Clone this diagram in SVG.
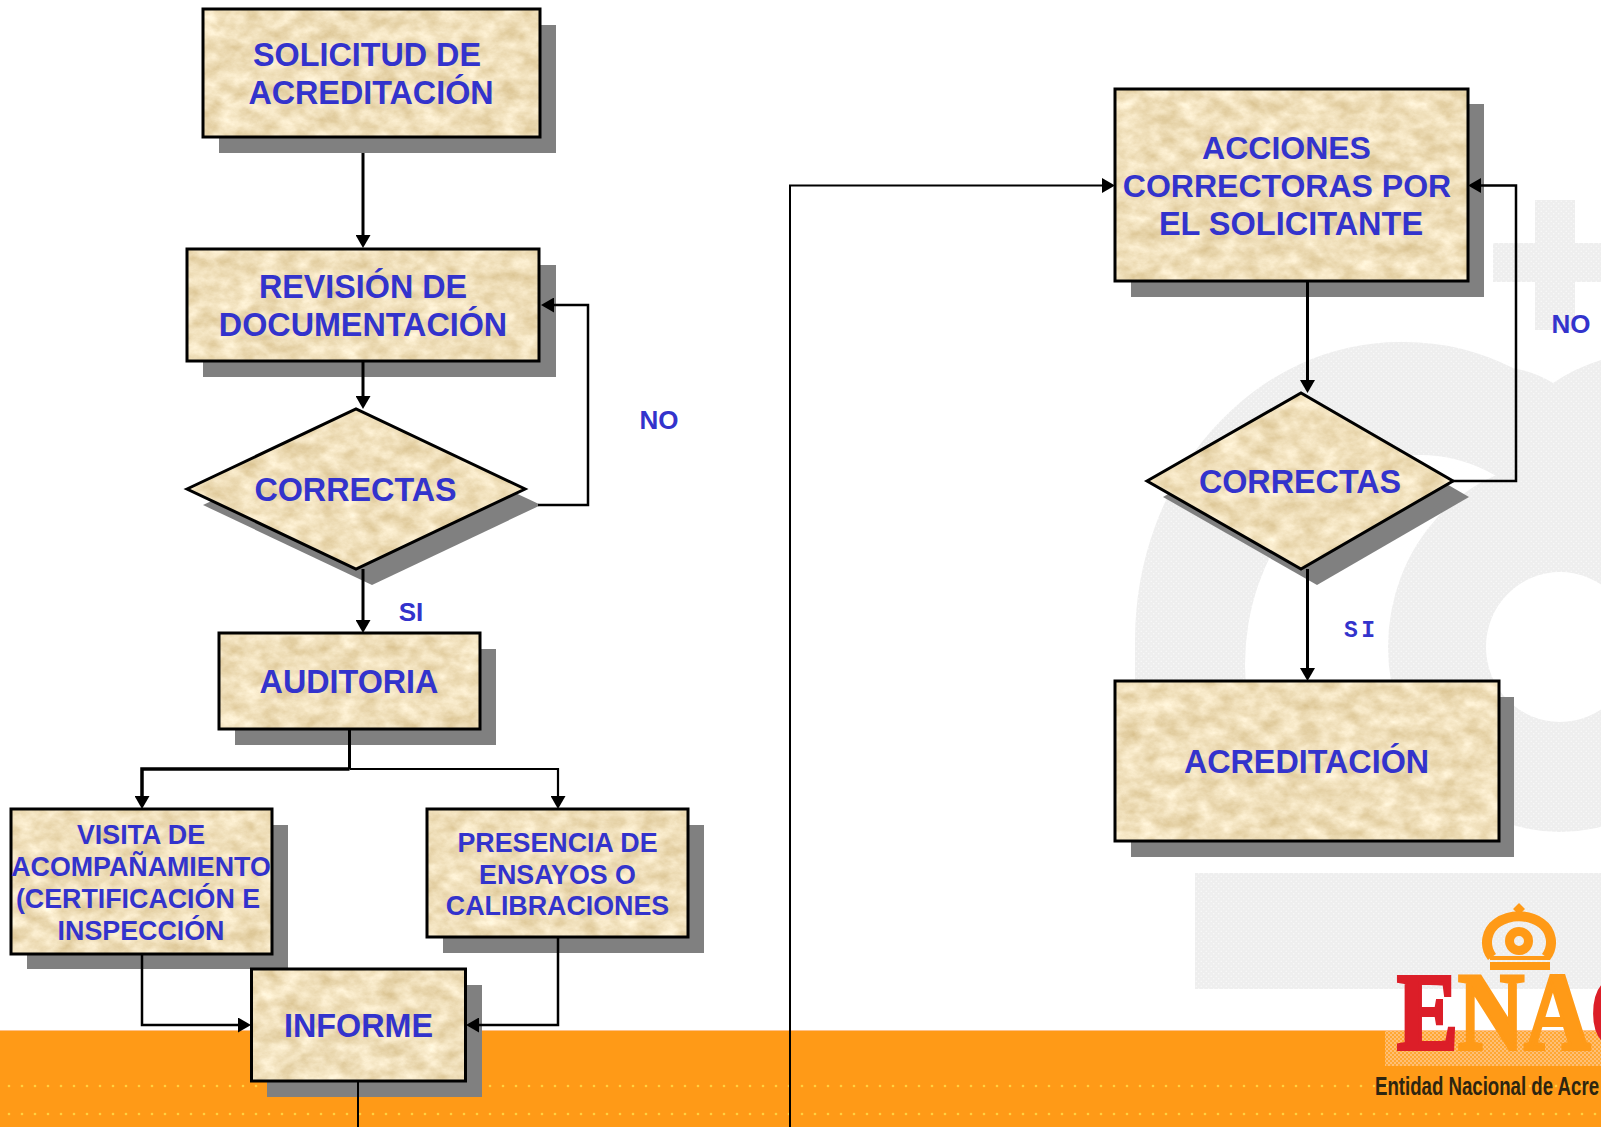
<svg xmlns="http://www.w3.org/2000/svg" width="1601" height="1127" viewBox="0 0 1601 1127">
<style>
.t{font-family:"Liberation Sans",Arial,sans-serif;font-weight:700;fill:#3333cc;text-anchor:middle}
.s32{font-size:32.3px}.s33{font-size:32.5px}.s31{font-size:32px}.s27{font-size:26.8px}.s26{font-size:26px}
.sh{fill:#808080}
.tex{filter:url(#parch)}
.ol{fill:none;stroke:#000;stroke-width:3}
.c{fill:none;stroke:#000;stroke-width:3;marker-end:url(#ah)}
.c0{fill:none;stroke:#000;stroke-width:3}
</style>
<defs>
<filter id="parch" x="0" y="0" width="100%" height="100%" color-interpolation-filters="sRGB">
<feTurbulence type="fractalNoise" baseFrequency="0.05 0.07" numOctaves="5" seed="7"/>
<feColorMatrix type="matrix" values="0.2 0 0 0 0.84  0.26 0 0 0 0.745  0.38 0 0 0 0.54  0 0 0 0 1"/>
<feComposite in2="SourceGraphic" operator="in"/>
</filter>
<marker id="ah" markerUnits="userSpaceOnUse" markerWidth="14" markerHeight="15" refX="8" refY="7.5" orient="auto"><path d="M0,0L13,7.5L0,15Z" fill="#000"/></marker>
<pattern id="wm" width="5" height="5" patternUnits="userSpaceOnUse"><rect width="5" height="5" fill="#eeeeee"/><circle cx="1.2" cy="1.2" r=".7" fill="#fbfbfb"/><circle cx="3.7" cy="3.7" r=".7" fill="#fbfbfb"/></pattern>
<pattern id="od" width="13" height="28" patternUnits="userSpaceOnUse" x="3" y="1072"><circle cx="6" cy="14" r="1.300" fill="#ffd040"/></pattern>
<pattern id="pd" width="4" height="4" patternUnits="userSpaceOnUse"><rect width="4" height="4" fill="#ffa733"/><circle cx="1" cy="1" r="1" fill="#ffc88c"/><circle cx="3" cy="3" r="1" fill="#ffc88c"/></pattern>
</defs>

<g id="background">
<rect width="1601" height="1127" fill="#fff"/>
<path fill="url(#wm)" d="M1535,200H1575V243H1601V282H1575V330H1535V282H1493V243H1535Z"/>
<path fill="url(#wm)" d="M1135,760V640A265,298 0 0 1 1400,342A265,298 0 0 1 1513,368Q1535,372 1553,383Q1575,368 1601,360V760Z"/>
<ellipse cx="1420" cy="665" rx="175" ry="210" fill="#fff"/>
<ellipse cx="1560" cy="647" rx="172" ry="185" fill="url(#wm)"/>
<ellipse cx="1560" cy="647" rx="74" ry="75" fill="#fff"/>
<rect x="1195" y="873" width="406" height="116" fill="url(#wm)"/>
<rect y="1031" width="1601" height="96" fill="#ff9a17"/>
<rect y="1030" width="1601" height="1" fill="#ffc28a"/>
<rect y="1072" width="1601" height="55" fill="url(#od)"/>
<rect x="1385" y="1031" width="216" height="35" fill="url(#pd)"/>
</g>

<g id="logo">
<path d="M1519,903l6,6l-6,6l-6,-6Z" fill="#ff9a17"/>
<path d="M1492,957C1483,945 1487,930 1497,923C1510,914 1528,914 1541,923C1551,930 1555,945 1546,957" fill="none" stroke="#ff9a17" stroke-width="10"/>
<circle cx="1519" cy="941" r="9.500" fill="none" stroke="#ff9a17" stroke-width="9"/>
<rect x="1490" y="956" width="60" height="4" fill="#ff9a17"/>
<rect x="1490" y="962" width="60" height="8" fill="#ff9a17"/>
<text transform="translate(1397,1049) scale(.81,.98)" font-family="'Liberation Serif','Times New Roman',serif" font-weight="700" font-size="113" fill="#ff9a17" stroke="#ff9a17" stroke-width="4"><tspan fill="#dc1e28" stroke="#dc1e28">E</tspan>NA<tspan fill="#dc1e28" stroke="#dc1e28">C</tspan></text>
<text x="1375" y="1095" font-family="'Liberation Sans',Arial,sans-serif" font-weight="700" font-size="26" fill="#2e2510" textLength="224" lengthAdjust="spacingAndGlyphs">Entidad Nacional de Acre</text>
</g>

<g id="n-solicitud">
<rect class="sh" x="219" y="25" width="337" height="128"/>
<rect class="tex" x="203" y="9" width="337" height="128"/>
<rect class="ol" x="203" y="9" width="337" height="128"/>
<text class="t s32" x="367" y="66">SOLICITUD DE</text>
<text class="t s32" x="371" y="104">ACREDITACIÓN</text>
</g>
<g id="n-revision">
<rect class="sh" x="203" y="265" width="353" height="112"/>
<rect class="tex" x="187" y="249" width="352" height="112"/>
<rect class="ol" x="187" y="249" width="352" height="112"/>
<text class="t s32" x="363" y="298">REVISIÓN DE</text>
<text class="t s32" x="363" y="336">DOCUMENTACIÓN</text>
</g>
<g id="n-correctas1">
<path class="sh" d="M203,505L372,425L541,505L372,585Z"/>
<path class="tex" d="M187,489L356,409L525,489L356,569Z"/>
<path class="ol" d="M187,489L356,409L525,489L356,569Z"/>
<text class="t s32" x="355.500" y="501">CORRECTAS</text>
</g>
<g id="n-auditoria">
<rect class="sh" x="235" y="649" width="261" height="96"/>
<rect class="tex" x="219" y="633" width="261" height="96"/>
<rect class="ol" x="219" y="633" width="261" height="96"/>
<text class="t s32" x="349" y="693">AUDITORIA</text>
</g>
<g id="n-visita">
<rect class="sh" x="27" y="825" width="261" height="144"/>
<rect class="tex" x="11" y="809" width="261" height="145"/>
<rect class="ol" x="11" y="809" width="261" height="145"/>
<text class="t s27" x="141" y="844">VISITA DE</text>
<text class="t s27" x="141" y="876">ACOMPAÑAMIENTO</text>
<text class="t s27" x="138" y="908">(CERTIFICACIÓN E</text>
<text class="t s27" x="141" y="940">INSPECCIÓN</text>
</g>
<g id="n-presencia">
<rect class="sh" x="443" y="825" width="261" height="128"/>
<rect class="tex" x="427" y="809" width="261" height="128"/>
<rect class="ol" x="427" y="809" width="261" height="128"/>
<text class="t s27" x="557.500" y="852">PRESENCIA DE</text>
<text class="t s27" x="557.500" y="884">ENSAYOS O</text>
<text class="t s27" x="557.500" y="915">CALIBRACIONES</text>
</g>
<g id="n-informe">
<rect class="sh" x="267" y="985" width="215" height="112"/>
<rect class="tex" x="251.500" y="969" width="214" height="112"/>
<rect class="ol" x="251.500" y="969" width="214" height="112"/>
<text class="t s32" x="358.500" y="1037">INFORME</text>
</g>
<g id="n-acciones">
<rect class="sh" x="1131" y="104" width="353" height="193"/>
<rect class="tex" x="1115" y="89" width="353" height="192"/>
<rect class="ol" x="1115" y="89" width="353" height="192"/>
<text class="t s31" x="1286.500" y="159">ACCIONES</text>
<text class="t s31" x="1287" y="197">CORRECTORAS POR</text>
<text class="t s33" x="1291" y="234.500">EL SOLICITANTE</text>
</g>
<g id="n-correctas2">
<path class="sh" d="M1163,497L1317,409L1469,497L1317,585Z"/>
<path class="tex" d="M1147,481L1301,393L1453,481L1301,569Z"/>
<path class="ol" d="M1147,481L1301,393L1453,481L1301,569Z"/>
<text class="t s32" x="1300" y="493">CORRECTAS</text>
</g>
<g id="n-acreditacion">
<rect class="sh" x="1131" y="697" width="383" height="160"/>
<rect class="tex" x="1115" y="681" width="384" height="160"/>
<rect class="ol" x="1115" y="681" width="384" height="160"/>
<text class="t s32" x="1306.500" y="773">ACREDITACIÓN</text>
</g>

<g id="labels">
<text class="t s26" x="659" y="429">NO</text>
<text class="t s26" x="411" y="621">SI</text>
<text class="t s26" x="1571" y="333">NO</text>
<text x="1344" y="637" font-family="'Liberation Mono','Courier New',monospace" font-weight="700" font-size="23" fill="#3333cc" textLength="31" lengthAdjust="spacing">SI</text>
</g>

<g id="connectors">
<path class="c" d="M363,153V243"/>
<path class="c" d="M363,361V404"/>
<path class="c" style="stroke-width:2.500" d="M538,505H588V305H546"/>
<path class="c" d="M363,569V628"/>
<path class="c0" d="M349.500,729V769"/>
<path class="c" style="stroke-width:3.500" d="M349.500,769H142V804"/>
<path class="c" style="stroke-width:2.200" d="M349.500,769H558V804"/>
<path class="c" style="stroke-width:2.500" d="M142,954V1025H246"/>
<path class="c" style="stroke-width:2.500" d="M558,937V1025H471"/>
<path class="c0" style="stroke-width:2" d="M358,1081V1127"/>
<path class="c" style="stroke-width:2" d="M790,1127V185.500H1110"/>
<path class="c" d="M1307.500,281V388"/>
<path class="c" style="stroke-width:2.500" d="M1453,481H1516V185.500H1473"/>
<path class="c" d="M1307.500,569V676"/>
</g>
</svg>
